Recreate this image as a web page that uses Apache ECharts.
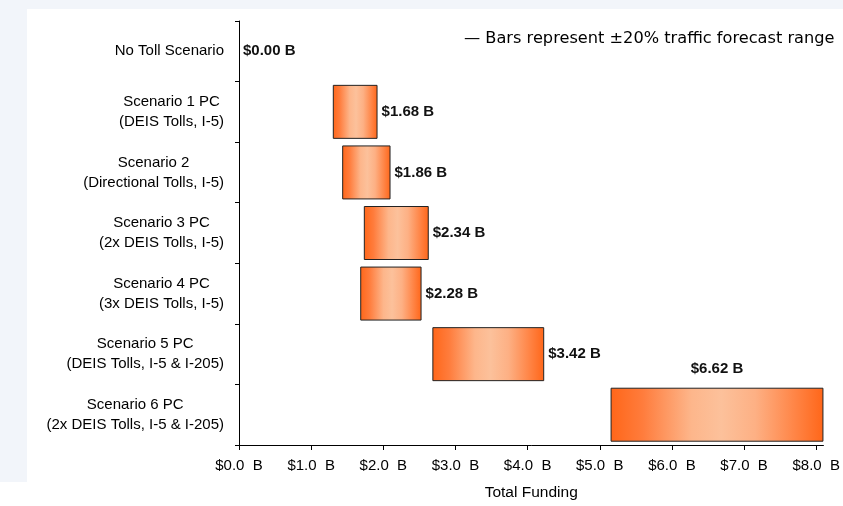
<!DOCTYPE html>
<html><head><meta charset="utf-8">
<script src="https://cdn.jsdelivr.net/npm/echarts@6/dist/echarts.min.js"></script>
<style>html,body{margin:0;padding:0;background:#fff}#c{width:843px;height:506px}</style>
</head><body><div id="c"></div>
<script>
const categories = [
  'No Toll Scenario',
  'Scenario 1 PC\n(DEIS Tolls, I-5)',
  'Scenario 2\n(Directional Tolls, I-5)',
  'Scenario 3 PC\n(2x DEIS Tolls, I-5)',
  'Scenario 4 PC\n(3x DEIS Tolls, I-5)',
  'Scenario 5 PC\n(DEIS Tolls, I-5 & I-205)',
  'Scenario 6 PC\n(2x DEIS Tolls, I-5 & I-205)'
];
const lowValues = [0, 1.30, 1.43, 1.73, 1.68, 2.68, 5.15];
const highValues = [0, 1.92, 2.10, 2.63, 2.53, 4.23, 8.10];
const pointLabels = ['$0.00 B', '$1.68 B', '$1.86 B', '$2.34 B', '$2.28 B', '$3.42 B', '$6.62 B'];
const xTicks = [0, 1, 2, 3, 4, 5, 6, 7, 8];
const noteText = '\u2014 Bars represent \u00b120% traffic forecast range';
const axisTitle = 'Total Funding';

const barGradient = new echarts.graphic.LinearGradient(0, 0, 1, 0, [
  {offset: 0, color: '#ff6619'},
  {offset: 0.15, color: '#ff7c3c'},
  {offset: 0.38, color: '#fdb68b'},
  {offset: 0.52, color: '#fcc19b'},
  {offset: 0.68, color: '#fdb084'},
  {offset: 0.86, color: '#ff8648'},
  {offset: 1, color: '#ff6619'}
]);

const rangeData = highValues.map((h, i) => {
  const item = {value: +(h - lowValues[i]).toFixed(4)};
  if (i === categories.length - 1) {
    item.label = {position: 'top', distance: 11};
  }
  if (h - lowValues[i] === 0) {
    item.itemStyle = {borderWidth: 0};
  }
  return item;
});

const chart = echarts.init(document.getElementById('c'), null, {renderer: 'canvas'});
chart.setOption({
  backgroundColor: '#ffffff',
  animation: false,
  graphic: [
    {type: 'rect', silent: true, z: -10, shape: {x: 0, y: 0, width: 843, height: 9}, style: {fill: '#f2f5fa'}},
    {type: 'rect', silent: true, z: -10, shape: {x: 0, y: 0, width: 27, height: 482}, style: {fill: '#f2f5fa'}}
  ],
  title: {
    text: noteText,
    left: 464, top: 31, padding: 0,
    textStyle: {fontFamily: 'DejaVu Sans', fontSize: 16.2, fontWeight: 'normal', color: '#000'}
  },
  grid: {left: 239, right: 18, top: 21, bottom: 60, containLabel: false},
  xAxis: {
    type: 'value', min: 0, max: 8.1, interval: 1,
    name: axisTitle, nameLocation: 'middle', nameGap: 40,
    nameTextStyle: {fontFamily: 'Liberation Sans', fontSize: 15.5, color: '#000'},
    axisLine: {show: true, lineStyle: {color: '#000', width: 1}},
    axisTick: {show: true, length: 5, lineStyle: {color: '#000'}, customValues: xTicks},
    axisLabel: {
      customValues: xTicks, margin: 13,
      fontFamily: 'Liberation Sans', fontSize: 15, color: '#000',
      formatter: v => '$' + Number(v).toFixed(1) + '  B'
    },
    splitLine: {show: false}
  },
  yAxis: {
    type: 'category', data: categories, inverse: true,
    axisLine: {show: true, lineStyle: {color: '#000', width: 1}},
    axisTick: {show: true, length: 4, lineStyle: {color: '#000'}},
    axisLabel: {
      margin: 15, interval: 0,
      formatter: v => v.split('\n').map(s => '{c|' + s + '}').join('\n'),
      rich: {c: {align: 'center', fontFamily: 'Liberation Sans', fontSize: 15, color: '#000', lineHeight: 20}}
    }
  },
  series: [
    {
      type: 'bar', stack: 'r', silent: true, barWidth: 54,
      itemStyle: {color: 'transparent', borderWidth: 0},
      data: lowValues
    },
    {
      type: 'bar', stack: 'r', barWidth: 54,
      itemStyle: {color: barGradient, borderColor: '#222', borderWidth: 1},
      label: {
        show: true, position: 'right', distance: 4,
        fontFamily: 'Liberation Sans', fontSize: 15, fontWeight: 'bold', color: '#111',
        formatter: p => pointLabels[p.dataIndex]
      },
      data: rangeData
    }
  ]
});
</script></body></html>
